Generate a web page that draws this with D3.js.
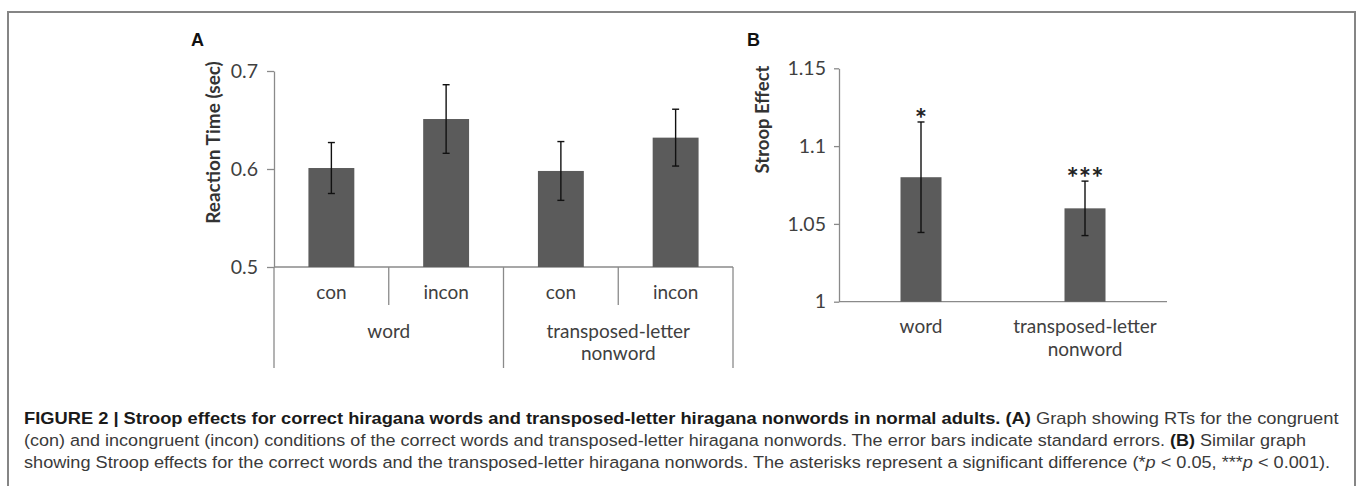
<!DOCTYPE html>
<html>
<head>
<meta charset="utf-8">
<script src="https://cdn.jsdelivr.net/npm/d3@7"></script>
<style>
  html, body { margin: 0; padding: 0; background: #fff; }
  svg { display: block; }
</style>
</head>
<body>
<svg id="chart" width="1357" height="486"></svg>
<script>
// ---------- DATA ----------
const groupsA = ["word", "transposed-letter nonword"];
const condsA = ["con", "incon"];
const rtMeans = [0.601, 0.651, 0.598, 0.632];   // word-con, word-incon, TL-con, TL-incon
const rtErrors = [0.026, 0.035, 0.030, 0.029];
const yTicksA = [0.5, 0.6, 0.7];

const groupsB = ["word", "transposed-letter nonword"];
const stroopMeans = [1.080, 1.060];
const stroopErrors = [0.0355, 0.0175];
const stroopSig = ["*", "***"];
const yTicksB = [1, 1.05, 1.1, 1.15];

const titleA = "Reaction Time (sec)";
const titleB = "Stroop Effect";

const captionLines = [
  [["b", "FIGURE 2 | Stroop effects for correct hiragana words and transposed-letter hiragana nonwords in normal adults. (A)"], ["r", " Graph showing RTs for the congruent"]],
  [["r", "(con) and incongruent (incon) conditions of the correct words and transposed-letter hiragana nonwords. The error bars indicate standard errors. "], ["b", "(B)"], ["r", " Similar graph"]],
  [["r", "showing Stroop effects for the correct words and the transposed-letter hiragana nonwords. The asterisks represent a significant difference (*"], ["i", "p"], ["r", " < 0.05, ***"], ["i", "p"], ["r", " < 0.001)."]]
];

// ---------- STYLE ----------
const svg = d3.select("#chart");
const FONT = "Lato, 'Open Sans', sans-serif";
const TXT = "#404040";
const AXIS = "#8a8a8a";
const BAR = "#5b5b5b";

// frame
svg.append("rect").attr("x", 8).attr("y", 12).attr("width", 1347).attr("height", 600)
  .attr("fill", "none").attr("stroke", "#858585").attr("stroke-width", 2);

// ---------- PANEL A ----------
const rowsA = [];
groupsA.forEach((g, gi) => condsA.forEach((c, ci) => {
  const i = gi * condsA.length + ci;
  rowsA.push({ key: g + "|" + c, group: g, cond: c, mean: rtMeans[i], err: rtErrors[i] });
}));

const xA = d3.scaleBand().domain(rowsA.map(d => d.key)).range([274, 733]);
const gxA = d3.scaleBand().domain(groupsA).range([274, 733]);
const yA = d3.scaleLinear().domain([0.5, 0.7]).range([267, 71]);

const gA = svg.append("g");
const axA = gA.append("g").attr("transform", `translate(${xA.range()[0]},0)`)
  .call(d3.axisLeft(yA).tickValues(yTicksA).tickFormat(d3.format(".1f")).tickSize(7).tickSizeOuter(0).tickPadding(9));
axA.select(".domain").attr("stroke", AXIS).attr("stroke-width", 1.3);
axA.selectAll(".tick line").attr("stroke", AXIS).attr("stroke-width", 1.3);
axA.selectAll(".tick text").attr("fill", TXT).style("font-family", FONT).style("font-size", "19.5px");

const baseA = yA(0.5);
const lineBottomA = 368, shortBottomA = 305;
gA.append("line").attr("x1", xA.range()[0]).attr("x2", xA.range()[1]).attr("y1", baseA).attr("y2", baseA)
  .attr("stroke", AXIS).attr("stroke-width", 1.3);
const sepA = [];
rowsA.forEach((d, i) => { if (i > 0) sepA.push({ x: xA(d.key), long: d.cond === condsA[0] }); });
sepA.push({ x: xA.range()[0], long: true });
sepA.push({ x: xA.range()[1], long: true });
gA.selectAll("line.sep").data(sepA).join("line").attr("class", "sep")
  .attr("x1", d => d.x).attr("x2", d => d.x).attr("y1", baseA).attr("y2", d => d.long ? lineBottomA : shortBottomA)
  .attr("stroke", AXIS).attr("stroke-width", 1.3);

const bwA = xA.bandwidth() * 0.4;
gA.selectAll("rect.bar").data(rowsA).join("rect").attr("class", "bar")
  .attr("x", d => xA(d.key) + (xA.bandwidth() - bwA) / 2).attr("width", bwA)
  .attr("y", d => yA(d.mean)).attr("height", d => baseA - yA(d.mean)).attr("fill", BAR);
const ebA = gA.selectAll("g.eb").data(rowsA).join("g").attr("class", "eb")
  .attr("transform", d => `translate(${xA(d.key) + xA.bandwidth() / 2},0)`);
ebA.append("line").attr("y1", d => yA(d.mean + d.err)).attr("y2", d => yA(d.mean - d.err));
ebA.append("line").attr("x1", -3.5).attr("x2", 3.5).attr("y1", d => yA(d.mean + d.err)).attr("y2", d => yA(d.mean + d.err));
ebA.append("line").attr("x1", -3.5).attr("x2", 3.5).attr("y1", d => yA(d.mean - d.err)).attr("y2", d => yA(d.mean - d.err));
ebA.selectAll("line").attr("stroke", "#111").attr("stroke-width", 1.4);

gA.selectAll("text.cond").data(rowsA).join("text").attr("class", "cond")
  .attr("x", d => xA(d.key) + xA.bandwidth() / 2).attr("y", 299)
  .attr("text-anchor", "middle").attr("fill", TXT).style("font-family", FONT).style("font-size", "19px")
  .text(d => d.cond);
const grpA = gA.selectAll("text.grp").data(groupsA).join("text").attr("class", "grp")
  .attr("text-anchor", "middle").attr("fill", TXT).style("font-family", FONT).style("font-size", "19px");
grpA.each(function (g) {
  const parts = g.split(" ");
  d3.select(this).selectAll("tspan").data(parts).join("tspan")
    .attr("x", gxA(g) + gxA.bandwidth() / 2).attr("y", (p, i) => 338 + i * 22).text(p => p);
});
gA.append("text").attr("transform", "translate(220,142.5) rotate(-90)")
  .attr("text-anchor", "middle").attr("fill", "#333").style("font-family", FONT)
  .style("font-size", "19px").style("font-weight", 700).text(titleA);
svg.append("text").attr("x", 191).attr("y", 45.5).attr("fill", "#111")
  .style("font-family", "'Liberation Sans', Arial, sans-serif").style("font-weight", 700).style("font-size", "18px").text("A");

// ---------- PANEL B ----------
const rowsB = groupsB.map((g, i) => ({ group: g, mean: stroopMeans[i], err: stroopErrors[i], sig: stroopSig[i] }));
const xB = d3.scaleBand().domain(groupsB).range([839, 1167]);
const yB = d3.scaleLinear().domain([1, 1.15]).range([301.7, 68.3]);
const gB = svg.append("g");
const axB = gB.append("g").attr("transform", `translate(${xB.range()[0]},0)`)
  .call(d3.axisLeft(yB).tickValues(yTicksB).tickFormat(d => String(+d.toFixed(2))).tickSize(5).tickSizeOuter(0).tickPadding(8));
axB.select(".domain").attr("stroke", AXIS).attr("stroke-width", 1.3);
axB.selectAll(".tick line").attr("stroke", AXIS).attr("stroke-width", 1.3);
axB.selectAll(".tick text").attr("fill", TXT).style("font-family", FONT).style("font-size", "19.5px");
const baseB = yB(1);
gB.append("line").attr("x1", xB.range()[0]).attr("x2", xB.range()[1]).attr("y1", baseB).attr("y2", baseB)
  .attr("stroke", AXIS).attr("stroke-width", 1.3);

const bwB = xB.bandwidth() * 0.25;
gB.selectAll("rect.bar").data(rowsB).join("rect").attr("class", "bar")
  .attr("x", d => xB(d.group) + (xB.bandwidth() - bwB) / 2).attr("width", bwB)
  .attr("y", d => yB(d.mean)).attr("height", d => baseB - yB(d.mean)).attr("fill", BAR);
const ebB = gB.selectAll("g.eb").data(rowsB).join("g").attr("class", "eb")
  .attr("transform", d => `translate(${xB(d.group) + xB.bandwidth() / 2},0)`);
ebB.append("line").attr("y1", d => yB(d.mean + d.err)).attr("y2", d => yB(d.mean - d.err));
ebB.append("line").attr("x1", -3.5).attr("x2", 3.5).attr("y1", d => yB(d.mean + d.err)).attr("y2", d => yB(d.mean + d.err));
ebB.append("line").attr("x1", -3.5).attr("x2", 3.5).attr("y1", d => yB(d.mean - d.err)).attr("y2", d => yB(d.mean - d.err));
ebB.selectAll("line").attr("stroke", "#111").attr("stroke-width", 1.4);
ebB.append("text").attr("text-anchor", "middle").attr("y", d => yB(d.mean + d.err) + 7)
  .attr("fill", "#222").style("font-family", FONT).style("font-size", "29px").style("font-weight", 700).text(d => d.sig);

const grpB = gB.selectAll("text.grp").data(groupsB).join("text").attr("class", "grp")
  .attr("text-anchor", "middle").attr("fill", TXT).style("font-family", FONT).style("font-size", "19px");
grpB.each(function (g) {
  const parts = g.split(" ");
  d3.select(this).selectAll("tspan").data(parts).join("tspan")
    .attr("x", xB(g) + xB.bandwidth() / 2).attr("y", (p, i) => 333 + i * 23).text(p => p);
});
gB.append("text").attr("transform", "translate(768.5,119.5) rotate(-90)")
  .attr("text-anchor", "middle").attr("fill", "#333").style("font-family", FONT)
  .style("font-size", "18.5px").style("font-weight", 700).text(titleB);
svg.append("text").attr("x", 747).attr("y", 45.5).attr("fill", "#111")
  .style("font-family", "'Liberation Sans', Arial, sans-serif").style("font-weight", 700).style("font-size", "18px").text("B");

// ---------- CAPTION ----------
const capTargets = [[24, 1340], [24, 1307], [24, 1331]];
const capBase = [424, 446, 468];
captionLines.forEach((segs, li) => {
  const t = svg.append("text").attr("x", 0).attr("y", 0)
    .style("font-family", "'Liberation Sans', Arial, sans-serif").style("font-size", "16.5px");
  segs.forEach(([k, s]) => {
    t.append("tspan").text(s)
      .attr("fill", k === "b" ? "#1a1a1a" : "#3a3a3a")
      .style("font-weight", k === "b" ? 700 : 400)
      .style("font-style", k === "i" ? "italic" : "normal");
  });
  t.attr("xml:space", "preserve").style("white-space", "pre");
  const w = t.node().getComputedTextLength();
  const [x0, x1] = capTargets[li];
  t.attr("transform", `translate(${x0},${capBase[li]}) scale(${(x1 - x0) / w},1)`);
});
</script>
</body>
</html>
